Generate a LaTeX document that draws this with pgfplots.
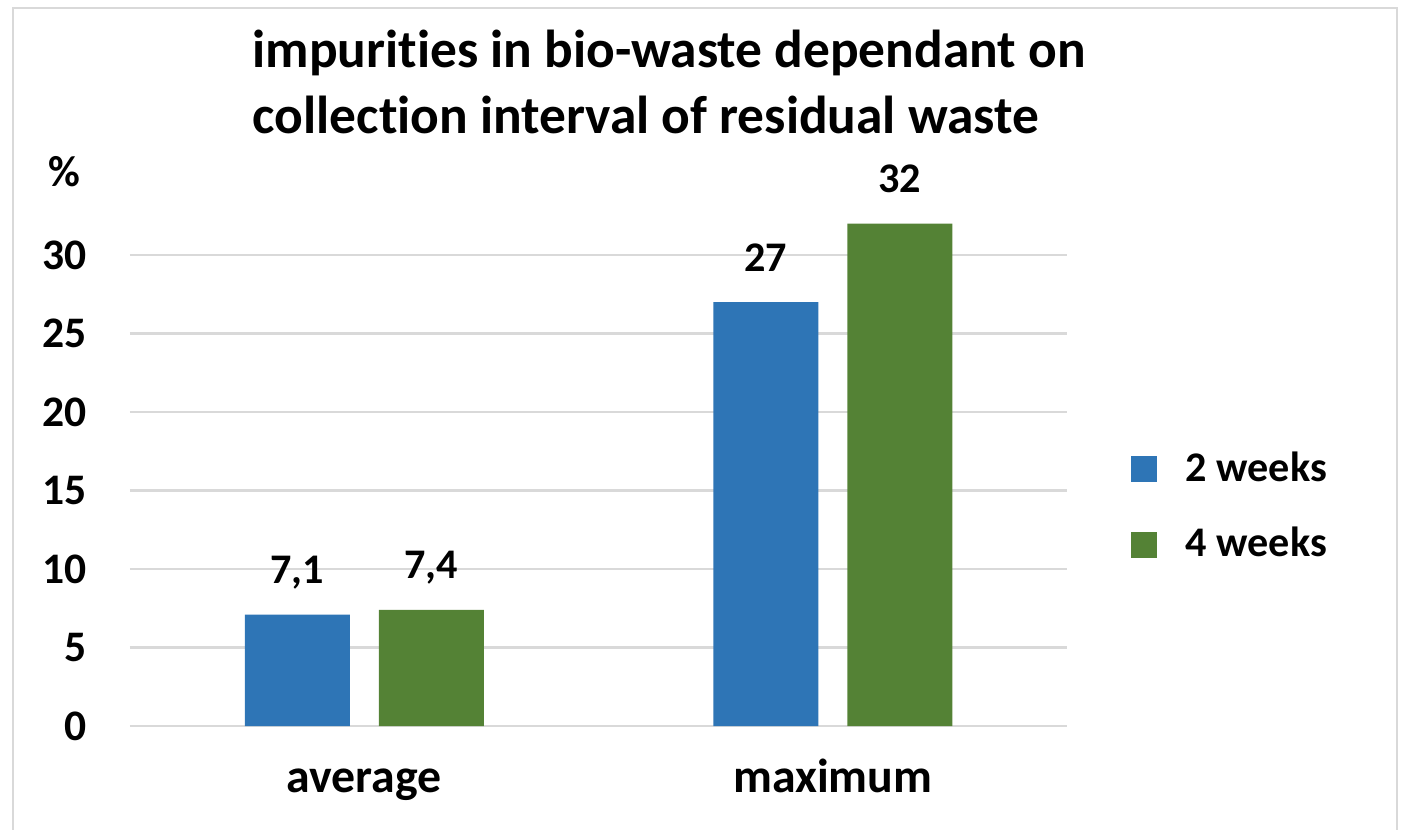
\documentclass[border=0pt]{standalone}
\usepackage{pgfplots}
\pgfplotsset{compat=1.18}
\usepackage{fontspec}
\setmainfont{Carlito}[Ligatures=NoCommon]
\definecolor{cblue}{HTML}{2E75B6}
\definecolor{cgreen}{HTML}{548235}
\definecolor{cgrid}{HTML}{D9D9D9}
\begin{document}
\begin{tikzpicture}
\useasboundingbox (-13.0mm,-10.3mm) rectangle (127.1mm,72.6mm);
\draw[cgrid, line width=0.75pt] (-11.7mm,-12mm) -- (-11.7mm,71.8mm) -- (126.7mm,71.8mm) -- (126.7mm,-12mm);
\begin{axis}[
  at={(0,0)}, anchor=south west,
  scale only axis, width=93.7mm, height=51.8mm,
  xmin=-0.5, xmax=1.5, ymin=0, ymax=33,
  axis line style={draw=none},
  ytick={0,5,...,30}, xtick={0,1},
  xticklabels={{average\hspace{3mm}},{maximum}},
  major tick length=0pt,
  ymajorgrids, grid style={cgrid, line width=0.75pt},
  /pgf/number format/assume math mode=true,
  yticklabel style={font=\fontsize{12.4}{14}\selectfont\bfseries, anchor=east, inner sep=0pt, xshift=-4.3mm},
  xticklabel style={font=\fontsize{13.6}{16}\selectfont\bfseries, anchor=base, inner sep=0pt, yshift=-6.6mm},
  ybar, bar width=10.5mm,
  nodes near coords={\pgfmathprintnumber[use comma]{\pgfplotspointmeta}},
  nodes near coords style={font=\fontsize{12}{14}\selectfont\bfseries, anchor=base, inner sep=0pt, yshift=3.1mm, /pgf/number format/assume math mode=true},
  legend image code/.code={\fill[#1] (0mm,-1.3mm) rectangle (2.6mm,1.3mm);},
  legend style={draw=none, fill=none, at={(1.0672,0.4232)}, anchor=west, inner sep=0pt,
    row sep=4.1mm, column sep=2.9mm, font=\fontsize{12}{14}\selectfont\bfseries,
    nodes={inner sep=0pt}},
  legend cell align=left,
]
\addplot[fill=cblue, draw=none, bar shift=-6.7mm] coordinates {(0,7.1) (1,27)};
\addlegendentry{2 weeks}
\addplot[fill=cgreen, draw=none, bar shift=6.7mm] coordinates {(0,7.4) (1,32)};
\addlegendentry{4 weeks}
\end{axis}
\node[font=\fontsize{15.2}{18.6}\selectfont\bfseries, align=left, anchor=west, inner sep=0pt] at (12.2mm,64.4mm) {impurities in bio-waste dependant on\\collection interval of residual waste};
\node[font=\fontsize{12.4}{14}\selectfont\bfseries] at (-6.6mm,55.4mm) {\%};
\end{tikzpicture}
\end{document}
